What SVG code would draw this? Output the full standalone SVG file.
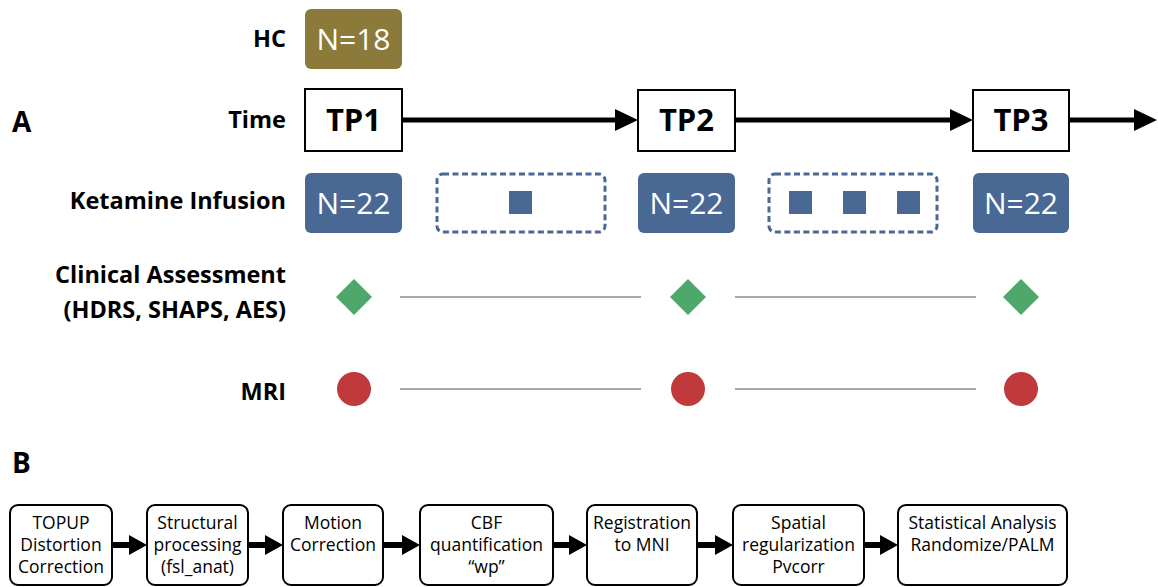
<svg xmlns="http://www.w3.org/2000/svg" width="1158" height="587" viewBox="0 0 1158 587">
<defs>
<style>
.lbl{font-family:"Open Sans","Liberation Sans",sans-serif;font-weight:bold;font-size:23.5px;fill:#000;text-anchor:end}
.big{font-family:"Open Sans","Liberation Sans",sans-serif;font-weight:bold;font-size:28px;fill:#000}
.n{font-family:"Open Sans","Liberation Sans",sans-serif;font-size:30px;fill:#fff;text-anchor:middle}
.tp{font-family:"Open Sans","Liberation Sans",sans-serif;font-weight:bold;font-size:31px;fill:#000;text-anchor:middle}
.bt{font-family:"Open Sans","Liberation Sans",sans-serif;font-size:17.5px;fill:#000;text-anchor:middle}
.tpbox{fill:#fff;stroke:#000;stroke-width:2}
.blue{fill:#4a6894}
.dash{fill:none;stroke:#4a6894;stroke-width:3;stroke-dasharray:6 3.5}
.step{fill:#fff;stroke:#000;stroke-width:2}
.thin{stroke:#555;stroke-width:1.2}
.thick{stroke:#000;stroke-width:5}
.bthick{stroke:#000;stroke-width:6}
</style>
</defs>
<rect width="1158" height="587" fill="#fff"/>

<text x="12" y="132" class="big">A</text>
<text x="12" y="473" class="big">B</text>

<g id="labels">
<text x="286" y="47" class="lbl">HC</text>
<text x="286" y="128" class="lbl">Time</text>
<text x="286" y="209" class="lbl">Ketamine Infusion</text>
<text x="286" y="283" class="lbl">Clinical Assessment</text>
<text x="286" y="318" class="lbl">(HDRS, SHAPS, AES)</text>
<text x="286" y="400" class="lbl">MRI</text>
</g>

<g id="hc">
<rect x="305" y="9" width="97" height="60" rx="6" fill="#8c7a3a"/>
<text x="353.5" y="50" class="n">N=18</text>
</g>

<g id="connectors">
<line x1="402" y1="120" x2="617" y2="120" class="thick"/>
<polygon points="615,109 638,120 615,131" fill="#000"/>
<line x1="735" y1="120" x2="952" y2="120" class="thick"/>
<polygon points="950,109 973,120 950,131" fill="#000"/>
<line x1="1069" y1="120" x2="1136" y2="120" class="thick"/>
<polygon points="1134,109 1157,120 1134,131" fill="#000"/>
<line x1="400" y1="297" x2="641" y2="297" class="thin"/>
<line x1="735" y1="297" x2="976" y2="297" class="thin"/>
<line x1="400" y1="389" x2="641" y2="389" class="thin"/>
<line x1="735" y1="389" x2="976" y2="389" class="thin"/>
<line x1="112" y1="545" x2="131" y2="545" class="bthick"/>
<polygon points="129,535 147,545 129,555" fill="#000"/>
<line x1="248" y1="545" x2="267" y2="545" class="bthick"/>
<polygon points="265,535 283,545 265,555" fill="#000"/>
<line x1="383" y1="545" x2="404" y2="545" class="bthick"/>
<polygon points="402,535 420,545 402,555" fill="#000"/>
<line x1="553" y1="545" x2="571" y2="545" class="bthick"/>
<polygon points="569,535 587,545 569,555" fill="#000"/>
<line x1="697" y1="545" x2="717" y2="545" class="bthick"/>
<polygon points="715,535 733,545 715,555" fill="#000"/>
<line x1="864" y1="545" x2="882" y2="545" class="bthick"/>
<polygon points="880,535 898,545 880,555" fill="#000"/>
</g>

<g id="tp1">
<rect x="305" y="89" width="97" height="62" class="tpbox"/>
<text x="353.5" y="131" class="tp">TP1</text>
</g>
<g id="tp2">
<rect x="638" y="90" width="97" height="61" class="tpbox"/>
<text x="686.5" y="131" class="tp">TP2</text>
</g>
<g id="tp3">
<rect x="973" y="90" width="96" height="61" class="tpbox"/>
<text x="1021" y="131" class="tp">TP3</text>
</g>

<g id="ket1">
<rect x="305" y="173" width="97" height="60" rx="6" class="blue"/>
<text x="353.5" y="214" class="n">N=22</text>
</g>
<g id="gap1">
<rect x="437" y="174" width="168" height="58" rx="6" class="dash"/>
<rect x="509" y="191" width="23" height="23" class="blue"/>
</g>
<g id="ket2">
<rect x="638" y="173" width="97" height="60" rx="6" class="blue"/>
<text x="686.5" y="214" class="n">N=22</text>
</g>
<g id="gap2">
<rect x="769" y="174" width="168" height="58" rx="6" class="dash"/>
<rect x="789" y="191" width="23" height="23" class="blue"/>
<rect x="843" y="191" width="23" height="23" class="blue"/>
<rect x="897" y="191" width="23" height="23" class="blue"/>
</g>
<g id="ket3">
<rect x="973" y="173" width="96" height="60" rx="6" class="blue"/>
<text x="1021" y="214" class="n">N=22</text>
</g>

<g id="ca1"><polygon points="354,279 372,297 354,315 336,297" fill="#4ea86c"/></g>
<g id="ca2"><polygon points="688,279 706,297 688,315 670,297" fill="#4ea86c"/></g>
<g id="ca3"><polygon points="1021,279 1039,297 1021,315 1003,297" fill="#4ea86c"/></g>

<g id="mri1"><circle cx="354" cy="389" r="17" fill="#c0393b"/></g>
<g id="mri2"><circle cx="688" cy="389" r="17" fill="#c0393b"/></g>
<g id="mri3"><circle cx="1021" cy="389" r="17" fill="#c0393b"/></g>

<g id="s1">
<rect x="10" y="505" width="102" height="80" rx="8" class="step"/>
<text x="61" y="529" class="bt">TOPUP</text>
<text x="61" y="551" class="bt">Distortion</text>
<text x="61" y="573" class="bt">Correction</text>
</g>
<g id="s2">
<rect x="147" y="505" width="101" height="80" rx="8" class="step"/>
<text x="197.5" y="529" class="bt">Structural</text>
<text x="197.5" y="551" class="bt">processing</text>
<text x="197.5" y="573" class="bt">(fsl_anat)</text>
</g>
<g id="s3">
<rect x="283" y="505" width="100" height="80" rx="8" class="step"/>
<text x="333" y="529" class="bt">Motion</text>
<text x="333" y="551" class="bt">Correction</text>
</g>
<g id="s4">
<rect x="420" y="505" width="133" height="80" rx="8" class="step"/>
<text x="486.5" y="529" class="bt">CBF</text>
<text x="486.5" y="551" class="bt">quantification</text>
<text x="486.5" y="573" class="bt">“wp”</text>
</g>
<g id="s5">
<rect x="587" y="505" width="110" height="80" rx="8" class="step"/>
<text x="642" y="529" class="bt">Registration</text>
<text x="642" y="551" class="bt">to MNI</text>
</g>
<g id="s6">
<rect x="733" y="505" width="131" height="80" rx="8" class="step"/>
<text x="798.5" y="529" class="bt">Spatial</text>
<text x="798.5" y="551" class="bt">regularization</text>
<text x="798.5" y="573" class="bt">Pvcorr</text>
</g>
<g id="s7">
<rect x="898" y="505" width="169" height="80" rx="8" class="step"/>
<text x="982.5" y="529" class="bt">Statistical Analysis</text>
<text x="982.5" y="551" class="bt">Randomize/PALM</text>
</g>
</svg>
